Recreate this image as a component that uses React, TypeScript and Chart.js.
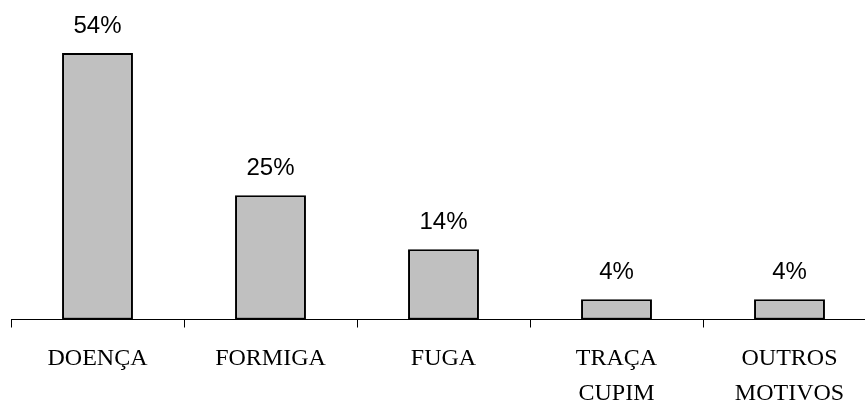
import React, { useEffect, useRef } from "react";
import { Chart, registerables } from "chart.js";

Chart.register(...registerables);

const categories: (string | string[])[] = ["DOENÇA", "FORMIGA", "FUGA", ["TRAÇA", "CUPIM"], ["OUTROS", "MOTIVOS"]];
const values: number[] = [53.8, 25.1, 14.2, 4.1, 4.1];
const valueLabels: string[] = ["54%", "25%", "14%", "4%", "4%"];

const valueLabelPlugin = {
  id: "valueLabels",
  afterDatasetsDraw(chart: any) {
    const ctx = chart.ctx;
    const meta = chart.getDatasetMeta(0);
    ctx.save();
    ctx.font = "24px 'Liberation Sans', Arial, sans-serif";
    ctx.fillStyle = "#000";
    ctx.textAlign = "center";
    ctx.textBaseline = "middle";
    meta.data.forEach((bar: any, i: number) => {
      ctx.fillText(valueLabels[i], bar.x, bar.y - 27);
    });
    ctx.restore();
  },
};

export default function App() {
  const ref = useRef<HTMLCanvasElement | null>(null);
  useEffect(() => {
    if (!ref.current) return;
    const chart = new Chart(ref.current, {
      type: "bar",
      data: {
        labels: categories as any,
        datasets: [
          {
            data: values,
            backgroundColor: "#c0c0c0",
            borderColor: "#000000",
            borderWidth: 2,
            borderSkipped: false,
            barPercentage: 0.41,
            categoryPercentage: 1,
          },
        ],
      },
      options: {
        animation: false,
        responsive: true,
        maintainAspectRatio: false,
        layout: { padding: { left: 11, right: 4, top: 0, bottom: 0 } },
        plugins: { legend: { display: false }, tooltip: { enabled: false } },
        scales: {
          x: {
            offset: true,
            afterFit(scale: any) {
              scale.height = 81.5;
            },
            border: { display: true, color: "#000", width: 1 },
            grid: {
              display: true,
              offset: true,
              drawOnChartArea: false,
              drawTicks: true,
              tickLength: 8,
              color: "#000",
            },
            ticks: {
              color: "#000",
              padding: 14,
              maxRotation: 0,
              autoSkip: false,
              font: { family: "'Liberation Serif', 'Times New Roman', serif", size: 24, lineHeight: 35 / 24 },
            },
          },
          y: {
            display: false,
            min: 0,
            max: 64.5,
          },
        },
      },
      plugins: [valueLabelPlugin],
    });
    return () => chart.destroy();
  }, []);
  return (
    <div style={{ position: "fixed", left: 0, top: 0, width: 865, height: 401, overflow: "hidden", background: "#fff" }}>
      <div style={{ width: 880, height: 401, position: "relative" }}>
        <canvas ref={ref} />
      </div>
    </div>
  );
}
